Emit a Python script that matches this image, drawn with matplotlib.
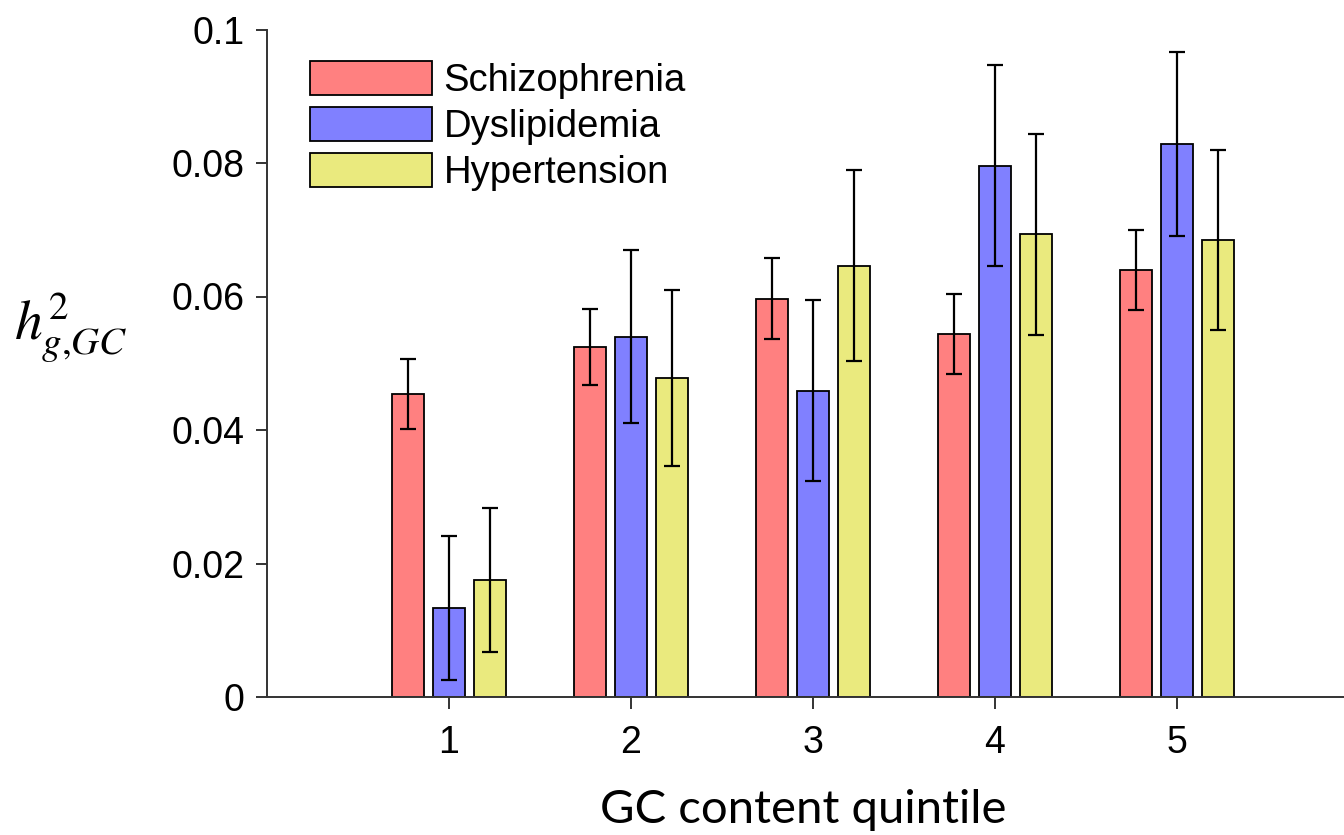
import matplotlib
matplotlib.use("Agg")
import matplotlib.pyplot as plt
import numpy as np

quintiles = [1, 2, 3, 4, 5]
tick_labels = ["1", "2", "3", "4", "5"]
series_names = ["Schizophrenia", "Dyslipidemia", "Hypertension"]

schizophrenia = [0.0454, 0.0525, 0.0597, 0.0544, 0.0640]
schizophrenia_err = [0.0052, 0.0057, 0.0060, 0.0060, 0.0060]
dyslipidemia = [0.0133, 0.0540, 0.0459, 0.0796, 0.0828]
dyslipidemia_err = [0.0108, 0.0130, 0.0136, 0.0151, 0.0138]
hypertension = [0.0175, 0.0478, 0.0646, 0.0693, 0.0685]
hypertension_err = [0.0108, 0.0132, 0.0143, 0.0151, 0.0135]

colors = ["#FF8080", "#8080FF", "#EAEA7E"]
y_ticks = [0, 0.02, 0.04, 0.06, 0.08, 0.1]
y_tick_labels = ["0", "0.02", "0.04", "0.06", "0.08", "0.1"]

plt.rcParams["font.family"] = ["Liberation Sans", "DejaVu Sans"]
plt.rcParams["mathtext.fontset"] = "stix"

W, H = 1344, 835
fig = plt.figure(figsize=(W / 100, H / 100), dpi=100)
# axes box in pixels: left spine at x=267, zero line at y=697, top at y=29.5
ax_h = 697 - 29.5
ax = fig.add_axes([267 / W, 1 - 697 / H, 1092 / W, ax_h / H])

x = np.array(quintiles, dtype=float)
width = 0.18
offset = 0.225
values = [schizophrenia, dyslipidemia, hypertension]
errors = [schizophrenia_err, dyslipidemia_err, hypertension_err]

for i, (vals, errs, col, name) in enumerate(zip(values, errors, colors, series_names)):
    pos = x + (i - 1) * offset
    ax.bar(pos, vals, width=width, color=col, edgecolor="black", linewidth=1.3,
           label=name, zorder=2)
    ax.errorbar(pos, vals, yerr=errs, fmt="none", ecolor="black", elinewidth=1.6,
                capsize=5.8, capthick=1.6, zorder=3)

ax.set_xlim(0, 6)
ax.set_ylim(0, 0.1)
ax.set_xticks(quintiles)
ax.set_xticklabels(tick_labels)
ax.set_yticks(y_ticks)
ax.set_yticklabels(y_tick_labels)

for side in ["top", "right"]:
    ax.spines[side].set_visible(False)
for side in ["left", "bottom"]:
    ax.spines[side].set_linewidth(1.4)
    ax.spines[side].set_color("#333333")

ax.tick_params(axis="both", labelsize=27, width=1.4, color="#333333", direction="out")
ax.tick_params(axis="y", length=8, pad=8)
ax.tick_params(axis="x", length=8.5, pad=11.5)

ax.set_xlabel("GC content quintile", fontsize=34, family=["Lato", "DejaVu Sans"])
ax.xaxis.set_label_coords(0.491, -92 / ax_h)

fig.text(0.053, 0.608, r"$h^{2}_{g{,}GC}$", fontsize=40, ha="center", va="center")

leg = ax.legend(loc="upper left", bbox_to_anchor=(43 / 1092, 1 - 31 / ax_h),
                fontsize=27.5, frameon=False, handlelength=3.19, handleheight=1.02,
                labelspacing=0.2, handletextpad=0.31, borderpad=0.0,
                borderaxespad=0.0)

fig.savefig("out.png", dpi=100, facecolor="white")
